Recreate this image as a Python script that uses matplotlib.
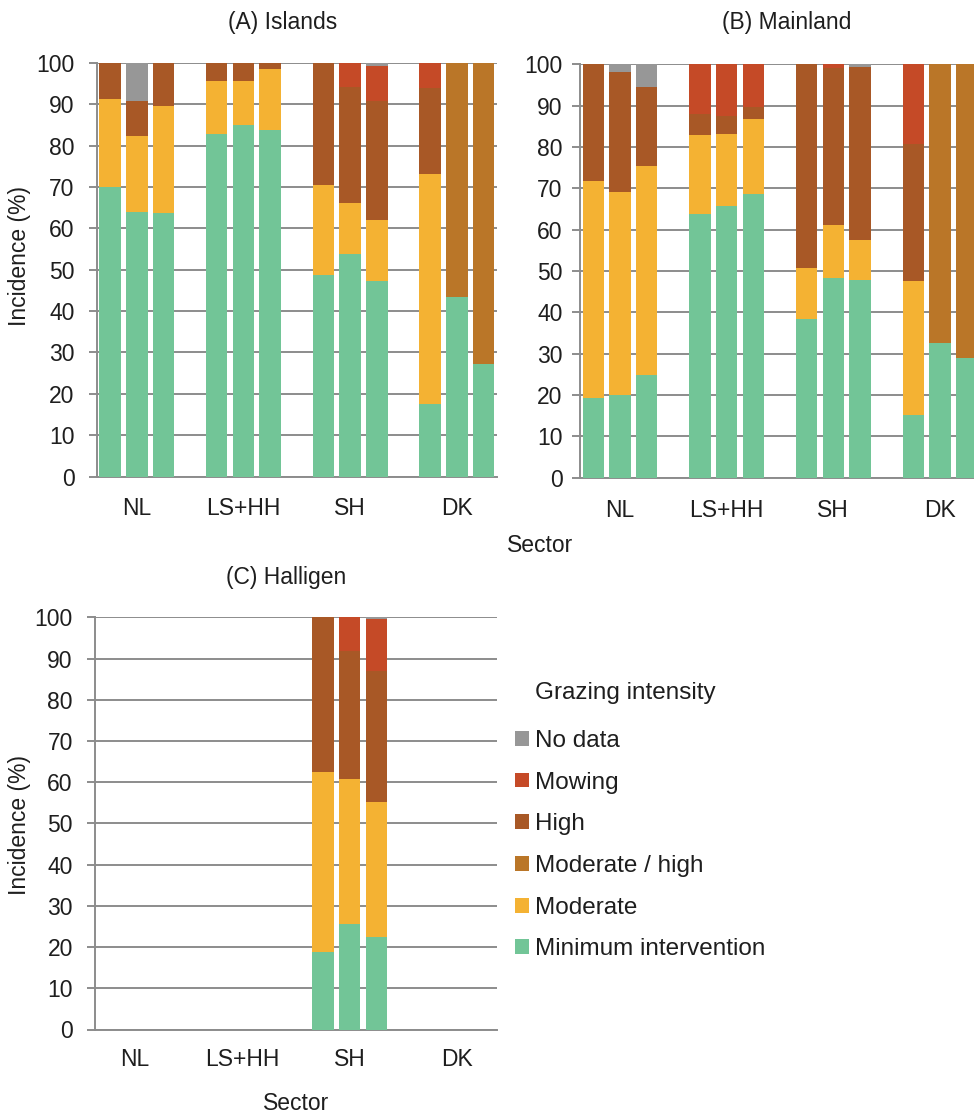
import matplotlib.pyplot as plt
from matplotlib.patches import Patch

plt.rcParams['font.family'] = ['Liberation Sans', 'DejaVu Sans']
plt.rcParams['font.size'] = 16.5
plt.rcParams['text.color'] = '#1e1e1e'
plt.rcParams['xtick.color'] = '#1e1e1e'
plt.rcParams['ytick.color'] = '#1e1e1e'

sectors = ["NL", "LS+HH", "SH", "DK"]
series = ["Minimum intervention", "Moderate", "Moderate / high", "High", "Mowing", "No data"]
colors = ["#72c597", "#f4b233", "#ba7628", "#a85826", "#c54a27", "#979797"]

# 3 bars per sector, order: NL x3, LS+HH x3, SH x3, DK x3
islands_min = [70.0, 64.0, 63.7, 82.8, 84.9, 83.9, 48.7, 53.9, 47.2, 17.5, 43.5, 27.3]
islands_mod = [21.2, 18.3, 26.0, 12.9, 10.8, 14.6, 21.7, 12.3, 14.8, 55.7, 0, 0]
islands_modhigh = [0, 0, 0, 0, 0, 0, 0, 0, 0, 0, 56.5, 72.7]
islands_high = [8.8, 8.4, 10.3, 4.3, 4.3, 1.5, 29.6, 28.1, 28.7, 20.7, 0, 0]
islands_mow = [0, 0, 0, 0, 0, 0, 0, 5.7, 8.6, 6.1, 0, 0]
islands_nd = [0, 9.3, 0, 0, 0, 0, 0, 0, 0.7, 0, 0, 0]

main_min = [19.2, 19.9, 24.8, 63.7, 65.8, 68.7, 38.3, 48.4, 47.8, 15.2, 32.6, 28.9]
main_mod = [52.6, 49.3, 50.5, 19.2, 17.2, 18.0, 12.5, 12.7, 9.6, 32.4, 0, 0]
main_modhigh = [0, 0, 0, 0, 0, 0, 0, 0, 0, 0, 67.4, 71.1]
main_high = [28.2, 29.0, 19.2, 5.0, 4.5, 2.9, 49.2, 37.9, 41.9, 33.0, 0, 0]
main_mow = [0, 0, 0, 12.1, 12.5, 10.4, 0, 1.0, 0, 19.4, 0, 0]
main_nd = [0, 1.8, 5.5, 0, 0, 0, 0, 0, 0.7, 0, 0, 0]

hall_min = [0, 0, 0, 0, 0, 0, 18.8, 25.6, 22.5, 0, 0, 0]
hall_mod = [0, 0, 0, 0, 0, 0, 43.6, 35.1, 32.7, 0, 0, 0]
hall_modhigh = [0, 0, 0, 0, 0, 0, 0, 0, 0, 0, 0, 0]
hall_high = [0, 0, 0, 0, 0, 0, 37.6, 31.1, 31.8, 0, 0, 0]
hall_mow = [0, 0, 0, 0, 0, 0, 0, 8.2, 12.5, 0, 0, 0]
hall_nd = [0, 0, 0, 0, 0, 0, 0, 0, 0.5, 0, 0, 0]

panels = [
    ("(A) Islands", [islands_min, islands_mod, islands_modhigh, islands_high, islands_mow, islands_nd]),
    ("(B) Mainland", [main_min, main_mod, main_modhigh, main_high, main_mow, main_nd]),
    ("(C) Halligen", [hall_min, hall_mod, hall_modhigh, hall_high, hall_mow, hall_nd]),
]

W, H = 974, 1118
fig = plt.figure(figsize=(W / 100, H / 100), dpi=100)

# axes boxes in pixels: left, top(100), bottom(0), width
boxes = [(96.7, 63.0, 476.5, 400), (580.0, 64.2, 477.7, 400), (95.0, 617.3, 1029.5, 402)]
pads = [10, 6.5, 10]
xpads = [15, 15, 13]
title_xy = [(283, 23), (787, 23), (286, 578)]

xpos = [4 * (i // 3) + i % 3 for i in range(12)]

for k in range(3):
    left, top, bottom, width = boxes[k]
    ax = fig.add_axes([left / W, 1 - bottom / H, width / W, (bottom - top) / H])
    title, data = panels[k]
    base = [0] * 12
    for s in range(len(series)):
        ax.bar(xpos, data[s], bottom=base, width=0.81, color=colors[s], linewidth=0, zorder=3)
        base = [b + v for b, v in zip(base, data[s])]
    ax.set_xlim(-0.5, 14.5)
    ax.set_ylim(0, 100)
    ax.set_yticks(range(0, 101, 10))
    ax.set_xticks([4 * g + 1 for g in range(4)])
    ax.set_xticklabels(sectors)
    ax.yaxis.grid(True, color="#8c8c8c", linewidth=1.4, zorder=0)
    ax.set_axisbelow(True)
    for side in ["top", "right"]:
        ax.spines[side].set_visible(False)
    for side in ["left", "bottom"]:
        ax.spines[side].set_color("#8c8c8c")
        ax.spines[side].set_linewidth(1.4)
    ax.tick_params(axis="y", length=6, width=1.4, color="#8c8c8c", pad=pads[k])
    ax.tick_params(axis="x", length=0, pad=xpads[k])
    tx, ty = title_xy[k]
    fig.text(tx / W, 1 - ty / H, title, ha="center", va="center")

fig.text(20 / W, 1 - 256 / H, "Incidence (%)", rotation=90, ha="center", va="center")
fig.text(20 / W, 1 - 825 / H, "Incidence (%)", rotation=90, ha="center", va="center")
fig.text(540 / W, 1 - 545 / H, "Sector", ha="center", va="center")
fig.text(296 / W, 1 - 1104 / H, "Sector", ha="center", va="center")

# legend
fig.text(535 / W, 1 - 693 / H, "Grazing intensity", ha="left", va="center", fontsize=17.5)
handles = [Patch(facecolor=colors[s], edgecolor="none") for s in range(5, -1, -1)]
labels = [series[s] for s in range(5, -1, -1)]
fig.legend(handles, labels, loc="upper left", bbox_to_anchor=(515 / W, 1 - 730 / H),
           frameon=False, borderpad=0, borderaxespad=0, handlelength=0.56, handleheight=0.56,
           handletextpad=0.25, labelspacing=0.81, fontsize=17.5)

fig.savefig("out.png", dpi=100)
